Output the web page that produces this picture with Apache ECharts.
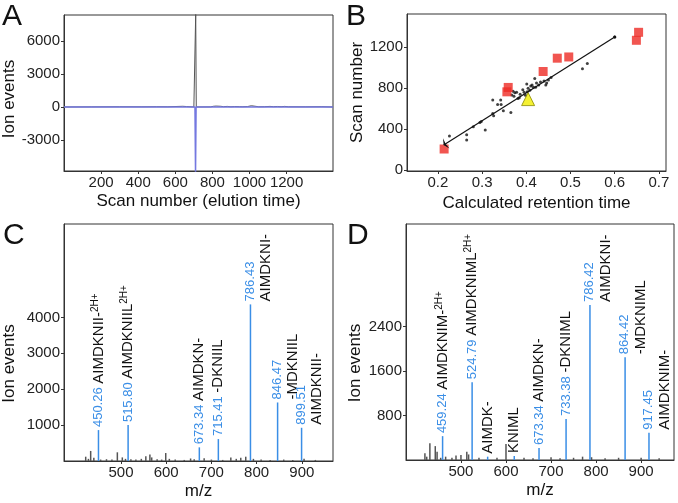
<!DOCTYPE html>
<html><head><meta charset="utf-8">
<script src="https://cdn.jsdelivr.net/npm/echarts@6/dist/echarts.min.js"></script>
<style>html,body{margin:0;padding:0;background:#fff}#c{width:678px;height:503px}</style>
</head><body><div id="c"></div>
<script>
// ---------- Panel A ----------
const scanTicksA = [200, 400, 600, 800, 1000, 1200];
const ionTicksA = [-3000, 0, 3000, 6000];
const traceBlackScan = [0,150,300,420,500,560,640,650,660,700,707,710,713,720,790,805,812,820,830,845,860,880,900,920,930,945,960,990,1010,1020,1050,1080,1110,1130,1150,1170,1190,1210,1300,1390,1450];
const traceBlackVal  = [0,10,20,15,25,20,60,15,40,0,0,8500,0,0,10,60,220,80,120,60,30,50,20,40,-90,30,20,40,110,30,20,25,50,30,45,25,50,20,15,25,0];
const traceBlueScan = [0, 706, 709, 712, 1450];
const traceBlueVal  = [0, 0, -6000, 0, 0];

// ---------- Panel B ----------
const rtTicks = [0.2, 0.3, 0.4, 0.5, 0.6, 0.7];
const scanTicksB = [0, 400, 800, 1200];
const dotsRT   = [0.226,0.265,0.265,0.280,0.295,0.298,0.307,0.324,0.324,0.326,0.335,0.342,0.343,0.348,0.365,0.367,0.370,0.372,0.374,0.378,0.381,0.384,0.386,0.392,0.395,0.398,0.401,0.402,0.404,0.408,0.410,0.413,0.416,0.419,0.421,0.423,0.428,0.432,0.440,0.444,0.446,0.450,0.456,0.527,0.538,0.600];
const dotsScan = [332,345,293,423,465,475,392,683,553,530,640,683,640,578,562,732,770,720,755,760,700,705,740,785,760,730,840,765,800,780,820,830,810,895,810,850,830,860,870,830,850,880,905,990,1040,1300];
const redRT   = [0.214, 0.356, 0.359, 0.438, 0.470, 0.496, 0.649, 0.654];
const redScan = [205, 764, 807, 963, 1093, 1105, 1268, 1346];
const yellowRT = [0.404];
const yellowScan = [693];
const fitRT = [0.213, 0.600];
const fitScan = [244, 1300];

// ---------- Panel C ----------
const mzTicks = [500, 600, 700, 800, 900];
const ionTicksC = [1000, 2000, 3000, 4000];
const smallC_mz  = [422,428,433,440,455,468,480,492,503,510,522,533,545,555,564,568,580,590,599,607,620,640,654,662,684,700,725,743,755,765,776,793,810,830,860,880,905,930];
const smallC_int = [120,60,280,90,40,50,40,242,100,60,50,40,60,130,180,100,50,40,222,60,40,30,70,50,80,40,30,100,60,90,120,60,40,30,40,30,60,30];
const peakC_mz   = [450.26, 515.80, 673.34, 715.41, 786.43, 846.47, 899.51];
const peakC_int  = [861, 1000, 380, 611, 4361, 1630, 925];
const peakC_name = ['AIMDKNII-', 'AIMDKNIIL', 'AIMDKN-', '-DKNIIL', 'AIMDKNI-', '-MDKNIIL', 'AIMDKNII-'];
const peakC_sup  = ['2H+', '2H+', '', '', '', '', ''];
const peakC_newline = [false, false, false, false, true, true, true];

// ---------- Panel D ----------
const ionTicksD = [800, 1600, 2400];
const smallD_mz  = [420,424,431,443,447,455,466,480,489,500,513,517,540,580,600,640,660,700,720,750,770,790,820,850,900,940];
const smallD_int = [120,60,300,250,150,40,60,40,80,90,150,100,40,40,290,40,30,50,30,40,60,50,30,40,40,30];
const peakD_mz   = [459.24, 524.79, 673.34, 733.38, 786.42, 864.42, 917.45];
const peakD_int  = [430, 1401, 216, 739, 2792, 1849, 489];
const peakD_name = ['AIMDKNIM-', 'AIMDKNIML', 'AIMDKN-', '-DKNIML', 'AIMDKNI-', '-MDKNIML', 'AIMDKNIM-'];
const peakD_sup  = ['2H+', '2H+', '', '', '', '', ''];
const peakD_newline = [false, false, false, false, true, true, true];
const fragD_mz   = [559.29, 618.35];
const fragD_int  = [60, 72];
const fragD_name = ['AIMDK-', 'KNIML'];

// ---------- styling ----------
const FONT = "'Liberation Sans', Arial, Helvetica, sans-serif";
const BLUE = '#3a8ee6';
const AX = '#333';
const zip = (a, b) => a.map((v, i) => [v, b[i]]);

function mkAxis(gi, min, max, ticks, name, gap, namePad) {
  return {
    type: 'value', gridIndex: gi, min: min, max: max,
    name: name, nameLocation: 'middle', nameGap: gap,
    nameTextStyle: { fontSize: 17, color: '#111', fontFamily: FONT, padding: namePad || 0 },
    axisLine: { show: true, onZero: false, lineStyle: { color: AX, width: 1 } },
    axisTick: { show: true, length: 3, inside: false, customValues: ticks, lineStyle: { color: AX } },
    axisLabel: { customValues: ticks, fontSize: 15, color: '#222', margin: 4, fontFamily: FONT,
      hideOverlap: false, formatter: v => String(v) },
    splitLine: { show: false }
  };
}

function peakData(smallMz, smallInt, pMz, pInt, pName, pSup, pNl, fMz, fInt, fName) {
  const out = [];
  smallMz.forEach((m, i) => out.push({ value: [m, smallInt[i]], itemStyle: { color: '#555' } }));
  pMz.forEach((m, i) => {
    const num = '{n|' + m.toFixed(2) + '}';
    const nm = '{t|' + pName[i] + '}' + (pSup[i] ? '{s|' + pSup[i] + '}' : '');
    const txt = pNl[i] ? num + '\n' + nm : num + ' ' + nm;
    out.push({
      value: [m, pInt[i]], itemStyle: { color: BLUE },
      label: { show: true, formatter: txt, offset: pNl[i] ? [0, 8] : [0, 0] }
    });
  });
  (fMz || []).forEach((m, i) => {
    out.push({
      value: [m, fInt[i]], itemStyle: { color: BLUE },
      label: { show: true, formatter: '{t|' + fName[i] + '}' }
    });
  });
  return out;
}

const peakLabel = {
  show: false, position: 'top', distance: 3, rotate: 90, align: 'left', verticalAlign: 'middle',
  fontSize: 13, fontFamily: FONT, color: '#111',
  rich: {
    n: { color: BLUE, fontSize: 13, lineHeight: 15, fontFamily: FONT },
    t: { color: '#111', fontSize: 15, lineHeight: 17, fontFamily: FONT },
    s: { color: '#111', fontSize: 10, lineHeight: 17, verticalAlign: 'top', fontFamily: FONT }
  }
};

const letter = (t, l, tp) => ({ text: t, left: l, top: tp, padding: 0,
  textStyle: { fontSize: 30, fontWeight: 'normal', color: '#111', fontFamily: FONT } });

const gridBase = { show: true, borderColor: AX, borderWidth: 1, backgroundColor: 'transparent', containLabel: false, outerBoundsMode: 'none' };

const option = {
  animation: false,
  backgroundColor: '#fff',
  textStyle: { fontFamily: FONT },
  title: [letter('A', 2, 2), letter('B', 346, 2), letter('C', 3, 221), letter('D', 347, 221)],
  grid: [
    Object.assign({ left: 64, top: 15, width: 269, height: 156 }, gridBase),
    Object.assign({ left: 407, top: 14, width: 259, height: 157 }, gridBase),
    Object.assign({ left: 64, top: 224, width: 269, height: 237 }, gridBase),
    Object.assign({ left: 406, top: 224, width: 268, height: 236 }, gridBase)
  ],
  xAxis: [
    mkAxis(0, 0, 1450, scanTicksA, 'Scan number (elution time)', 22),
    mkAxis(1, 0.13, 0.716, rtTicks, 'Calculated retention time', 24),
    mkAxis(2, 374, 969, mzTicks, 'm/z', 22),
    mkAxis(3, 378, 973, mzTicks, 'm/z', 22)
  ],
  yAxis: [
    mkAxis(0, -5820, 8360, ionTicksA, 'Ion events', 45, [0, 12, 0, 0]),
    mkAxis(1, -10, 1525, scanTicksB, 'Scan number', 37),
    mkAxis(2, 0, 6600, ionTicksC, 'Ion events', 46, [0, 42, 0, 0]),
    mkAxis(3, 0, 4250, ionTicksD, 'Ion events', 42, [0, 42, 0, 0])
  ],
  series: [
    { type: 'line', xAxisIndex: 0, yAxisIndex: 0, data: zip(traceBlackScan, traceBlackVal),
      symbol: 'none', lineStyle: { color: '#555', width: 1 }, clip: true },
    { type: 'line', xAxisIndex: 0, yAxisIndex: 0, data: zip(traceBlueScan, traceBlueVal),
      symbol: 'none', lineStyle: { color: '#7478e0', width: 1.5 }, clip: true },

    { type: 'scatter', xAxisIndex: 1, yAxisIndex: 1, data: zip(dotsRT, dotsScan),
      symbol: 'circle', symbolSize: 3, itemStyle: { color: '#111' },
      markLine: { silent: true, symbol: ['arrow', 'circle'], symbolSize: [9, 3],
        lineStyle: { color: '#111', width: 1.2, type: 'solid' }, label: { show: false },
        data: [[{ coord: [fitRT[0], fitScan[0]] }, { coord: [fitRT[1], fitScan[1]] }]] } },
    { type: 'scatter', xAxisIndex: 1, yAxisIndex: 1, data: zip(redRT, redScan),
      symbol: 'rect', symbolSize: 9, itemStyle: { color: '#ee2a24' } },
    { type: 'scatter', xAxisIndex: 1, yAxisIndex: 1, data: zip(yellowRT, yellowScan),
      symbol: 'triangle', symbolSize: 13, itemStyle: { color: '#f2ee00', borderColor: '#8a8a00', borderWidth: 1 } },

    { type: 'bar', xAxisIndex: 2, yAxisIndex: 2, barWidth: 1.5, clip: true, label: peakLabel,
      data: peakData(smallC_mz, smallC_int, peakC_mz, peakC_int, peakC_name, peakC_sup, peakC_newline) },
    { type: 'bar', xAxisIndex: 3, yAxisIndex: 3, barWidth: 1.5, clip: true, label: peakLabel,
      data: peakData(smallD_mz, smallD_int, peakD_mz, peakD_int, peakD_name, peakD_sup, peakD_newline, fragD_mz, fragD_int, fragD_name) }
  ]
};

const chart = echarts.init(document.getElementById('c'), null, { renderer: 'canvas' });
chart.setOption(option);
</script>
</body></html>
